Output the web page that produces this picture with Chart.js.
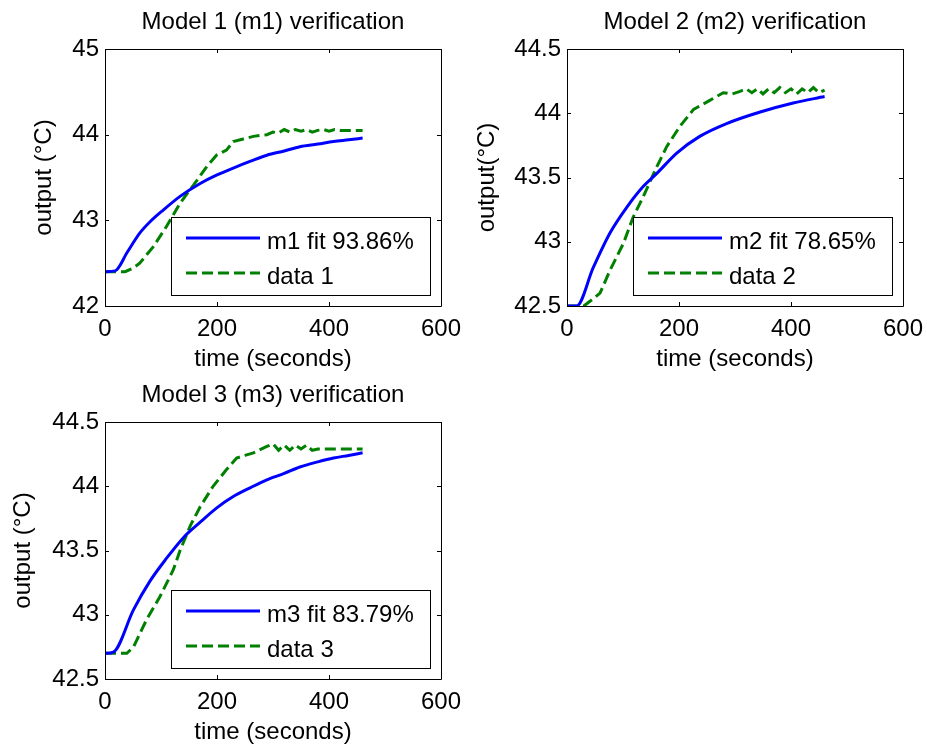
<!DOCTYPE html>
<html>
<head>
<meta charset="utf-8">
<script src="https://cdn.jsdelivr.net/npm/chart.js@4.4.1/dist/chart.umd.min.js"></script>
<style>
    body { margin: 0; background: #ffffff; }
    #pagina { position: relative; width: 927px; height: 746px; overflow: hidden; }
    canvas { position: absolute; }
</style>
</head>
<body>
<div id="pagina">
    <canvas id="graf1" width="475" height="373" style="left:0px; top:0px;"></canvas>
    <canvas id="graf2" width="475" height="373" style="left:462px; top:0px;"></canvas>
    <canvas id="graf3" width="475" height="373" style="left:0px; top:373px;"></canvas>
</div>
<script>
// dados (tempo em segundos, saida em graus C)
var fitTime1 = [0, 18, 40, 62, 80, 104, 134, 170, 200, 229, 260, 289, 320, 348, 380, 408, 435, 460];
var fitTemp1 = [42.40, 42.41, 42.63, 42.85, 42.98, 43.12, 43.28, 43.43, 43.53, 43.61, 43.69, 43.76, 43.81, 43.86, 43.89, 43.92, 43.94, 43.96];
var dataTime1 = [0, 36, 50, 62, 86, 110, 134, 158, 182, 199, 217, 229, 247, 265, 289, 300, 310, 320, 330, 340, 350, 360, 370, 380, 390, 400, 410, 420, 440, 460];
var dataTemp1 = [42.40, 42.40, 42.44, 42.50, 42.69, 42.93, 43.20, 43.41, 43.63, 43.76, 43.82, 43.92, 43.95, 43.98, 44.00, 44.03, 44.02, 44.06, 44.03, 44.06, 44.04, 44.06, 44.03, 44.05, 44.06, 44.04, 44.06, 44.05, 44.05, 44.05];

var fitTime2 = [0, 17, 47, 77, 107, 136, 160, 196, 237, 285, 345, 404, 460];
var fitTemp2 = [42.50, 42.50, 42.80, 43.07, 43.27, 43.43, 43.53, 43.69, 43.82, 43.92, 44.01, 44.08, 44.13];
var dataTime2 = [0, 30, 45, 59, 77, 101, 118, 136, 160, 178, 202, 226, 255, 279, 295, 309, 320, 330, 340, 350, 360, 370, 380, 390, 400, 410, 420, 430, 440, 450, 460];
var dataTemp2 = [42.50, 42.50, 42.55, 42.60, 42.78, 42.99, 43.19, 43.35, 43.58, 43.74, 43.90, 44.03, 44.10, 44.16, 44.15, 44.17, 44.19, 44.16, 44.19, 44.15, 44.19, 44.16, 44.20, 44.16, 44.19, 44.15, 44.19, 44.16, 44.20, 44.16, 44.18];

var fitTime3 = [0, 15, 51, 80, 110, 140, 170, 199, 229, 260, 289, 320, 348, 380, 408, 435, 460];
var fitTemp3 = [42.70, 42.71, 43.04, 43.26, 43.44, 43.60, 43.72, 43.83, 43.92, 43.99, 44.05, 44.10, 44.15, 44.19, 44.22, 44.24, 44.26];
var dataTime3 = [0, 39, 51, 74, 98, 122, 134, 152, 170, 193, 217, 235, 250, 265, 289, 300, 310, 320, 330, 340, 350, 360, 370, 380, 400, 460];
var dataTemp3 = [42.70, 42.70, 42.75, 42.96, 43.14, 43.35, 43.50, 43.69, 43.84, 44.00, 44.13, 44.22, 44.24, 44.26, 44.31, 44.33, 44.28, 44.32, 44.28, 44.32, 44.29, 44.32, 44.28, 44.29, 44.29, 44.29];

// ticks dos eixos
var xTicks = [0, 200, 400, 600];
var yTicks1 = [42, 43, 44, 45];
var yTicks2 = [42.5, 43, 43.5, 44, 44.5];
var yTicks3 = [42.5, 43, 43.5, 44, 44.5];

var titulos = ['Model 1 (m1) verification', 'Model 2 (m2) verification', 'Model 3 (m3) verification'];
var yTitulos = ['output (\u00B0C)', 'output(\u00B0C)', 'output (\u00B0C)'];
var legendas = [['m1 fit 93.86%', 'data 1'], ['m2 fit 78.65%', 'data 2'], ['m3 fit 83.79%', 'data 3']];

var fonte = 'Liberation Sans, Arial, sans-serif';
var tamFonte = 24;

Chart.defaults.color = '#000000';
Chart.defaults.font.family = fonte;
Chart.defaults.font.size = tamFonte;

function juntar(tempos, valores) {
    var pontos = [];
    for (let c = 0; c < tempos.length; c++) {
        pontos.push({ x: tempos[c], y: valores[c] });
    }
    return pontos;
}

// moldura estilo matlab: caixa fechada com ticks para dentro
var moldura = {
    id: 'moldura',
    afterDatasetsDraw: function (chart) {
        var ctx = chart.ctx;
        var a = chart.chartArea;
        var sx = chart.scales.x;
        var sy = chart.scales.y;
        ctx.save();
        ctx.strokeStyle = '#000000';
        ctx.lineWidth = 1;
        ctx.beginPath();
        ctx.rect(a.left + 0.5, a.top + 0.5, a.right - a.left, a.bottom - a.top);
        sx.ticks.forEach(function (t) {
            var px = Math.round(sx.getPixelForValue(t.value)) + 0.5;
            ctx.moveTo(px, a.bottom);
            ctx.lineTo(px, a.bottom - 4);
            ctx.moveTo(px, a.top);
            ctx.lineTo(px, a.top + 4);
        });
        sy.ticks.forEach(function (t) {
            var py = Math.round(sy.getPixelForValue(t.value)) + 0.5;
            ctx.moveTo(a.left, py);
            ctx.lineTo(a.left + 4, py);
            ctx.moveTo(a.right, py);
            ctx.lineTo(a.right - 4, py);
        });
        ctx.stroke();
        ctx.restore();
    }
};

// legenda em caixa no canto inferior direito
var caixaLegenda = {
    id: 'caixaLegenda',
    afterDraw: function (chart) {
        var ctx = chart.ctx;
        var a = chart.chartArea;
        var larg = 259;
        var alt = 78;
        var dir = a.right - 11;
        var baixo = a.bottom - 11;
        var esq = dir - larg;
        var topo = baixo - alt;
        ctx.save();
        ctx.fillStyle = '#ffffff';
        ctx.fillRect(esq, topo, larg, alt);
        ctx.strokeStyle = '#000000';
        ctx.lineWidth = 1;
        ctx.strokeRect(esq + 0.5, topo + 0.5, larg, alt);

        var linhas = [21, 56];
        chart.data.datasets.forEach(function (ds, i) {
            var y = topo + linhas[i];
            ctx.beginPath();
            ctx.strokeStyle = ds.borderColor;
            ctx.lineWidth = ds.borderWidth;
            ctx.setLineDash(ds.borderDash || []);
            ctx.moveTo(esq + 15, y);
            ctx.lineTo(esq + 89, y);
            ctx.stroke();
            ctx.setLineDash([]);
            ctx.fillStyle = '#000000';
            ctx.font = tamFonte + 'px ' + fonte;
            ctx.textBaseline = 'middle';
            ctx.textAlign = 'left';
            ctx.fillText(ds.label, esq + 96, y + 4);
        });
        ctx.restore();
    }
};

function montar(idCanvas, fitT, fitV, datT, datV, yTicks, titulo, yTitulo, nomes, yTitPad) {
    var data = {
        datasets: [{
            label: nomes[0],
            data: juntar(fitT, fitV),
            borderColor: '#0000ff',
            borderWidth: 3,
            pointRadius: 0,
            cubicInterpolationMode: 'monotone',
            xAxisID: 'x',
            yAxisID: 'y'
        }, {
            label: nomes[1],
            data: juntar(datT, datV),
            borderColor: '#008000',
            borderWidth: 3,
            borderDash: [11, 5],
            pointRadius: 0,
            tension: 0,
            xAxisID: 'x',
            yAxisID: 'y'
        }]
    };

    var config = {
        type: 'line',
        data: data,
        options: {
            responsive: false,
            animation: false,
            devicePixelRatio: 1,
            layout: { padding: { left: 0, top: 0, right: 34, bottom: 0 } },
            plugins: {
                legend: { display: false },
                title: { display: false },
                tooltip: { enabled: false }
            },
            scales: {
                x: {
                    type: 'linear',
                    position: 'bottom',
                    min: xTicks[0],
                    max: xTicks[xTicks.length - 1],
                    afterBuildTicks: function (s) { s.ticks = xTicks.map(function (v) { return { value: v }; }); },
                    afterFit: function (s) { s.height = 67; },
                    grid: { display: false, drawTicks: false },
                    border: { display: false },
                    ticks: { padding: 11, maxRotation: 0, autoSkip: false, font: { size: tamFonte, lineHeight: 1 }, callback: function (v) { return String(v); } },
                    title: { display: true, text: 'time (seconds)', font: { size: tamFonte, lineHeight: 1 }, padding: { top: 0, bottom: 2 } }
                },
                xTopo: {
                    type: 'linear',
                    position: 'top',
                    min: xTicks[0],
                    max: xTicks[xTicks.length - 1],
                    afterFit: function (s) { s.height = 49; },
                    grid: { display: false, drawTicks: false },
                    border: { display: false },
                    ticks: { display: false },
                    title: { display: true, text: titulo, font: { size: tamFonte, lineHeight: 1 }, padding: { top: 10, bottom: 0 } }
                },
                y: {
                    type: 'linear',
                    position: 'left',
                    min: yTicks[0],
                    max: yTicks[yTicks.length - 1],
                    afterBuildTicks: function (s) { s.ticks = yTicks.map(function (v) { return { value: v }; }); },
                    afterFit: function (s) { s.width = 105; },
                    grid: { display: false, drawTicks: false },
                    border: { display: false },
                    ticks: { padding: 6, autoSkip: false, font: { size: tamFonte, lineHeight: 1 }, callback: function (v) { return String(v); } },
                    title: { display: true, text: yTitulo, font: { size: tamFonte, lineHeight: 1 }, padding: { top: yTitPad, bottom: 0 } }
                }
            }
        },
        plugins: [moldura, caixaLegenda]
    };

    return new Chart(document.getElementById(idCanvas), config);
}

montar('graf1', fitTime1, fitTemp1, dataTime1, dataTemp1, yTicks1, titulos[0], yTitulos[0], legendas[0], 32.5);
montar('graf2', fitTime2, fitTemp2, dataTime2, dataTemp2, yTicks2, titulos[1], yTitulos[1], legendas[1], 13);
montar('graf3', fitTime3, fitTemp3, dataTime3, dataTemp3, yTicks3, titulos[2], yTitulos[2], legendas[2], 11.5);
</script>
</body>
</html>
